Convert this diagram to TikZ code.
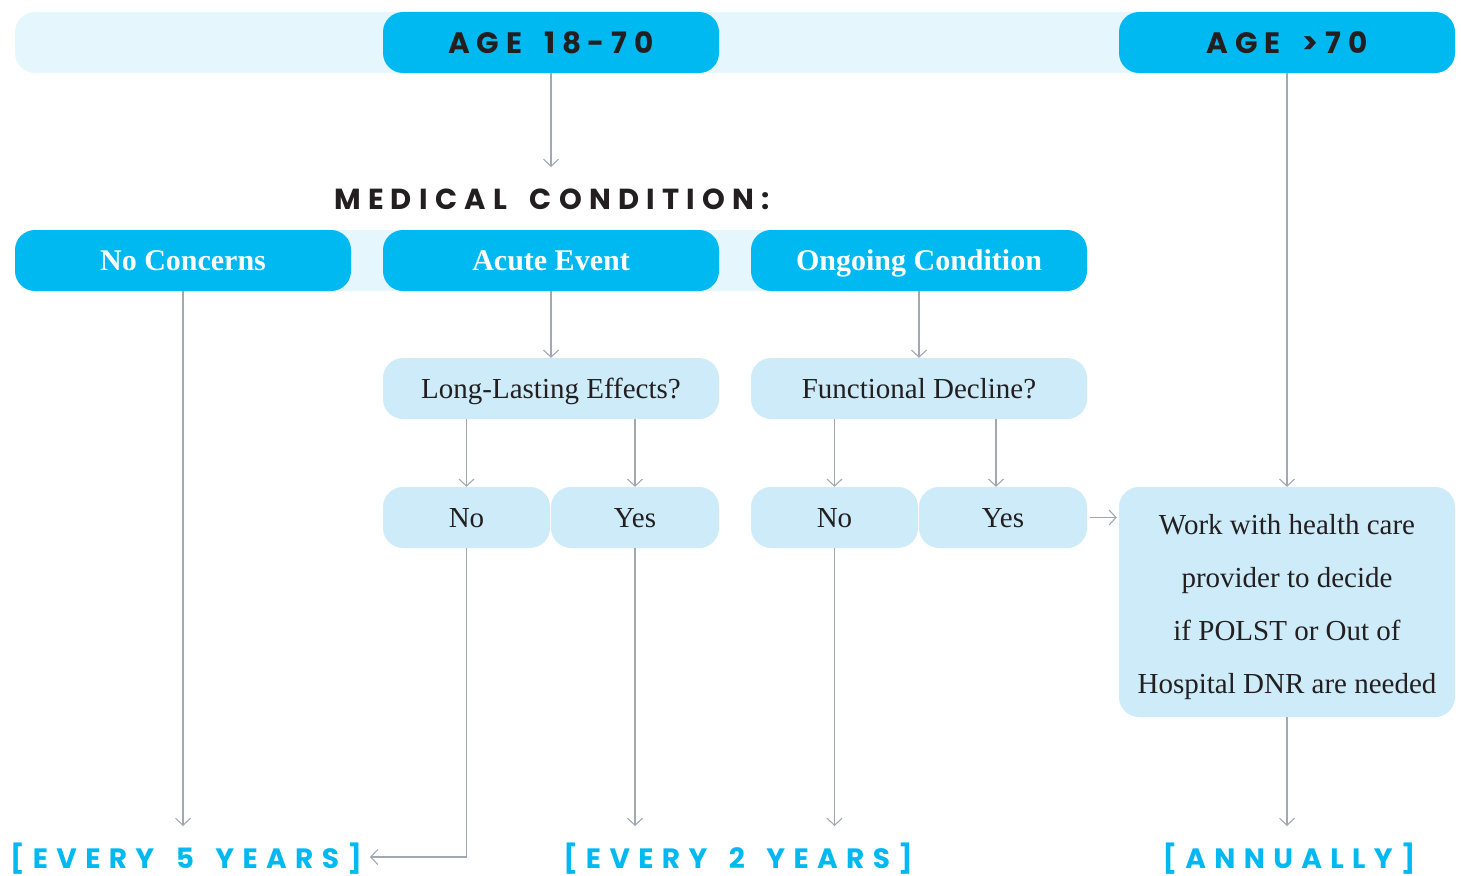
\documentclass[tikz,border=0pt]{standalone}
\usepackage{fontspec}
\setmainfont{Liberation Serif}
\newfontfamily\capsfont[LetterSpace=23,WordSpace=1.7]{Poppins}
\newfontfamily\headfont[LetterSpace=25,WordSpace=1.7]{Poppins}
\newfontfamily\capsfontwide[LetterSpace=30,WordSpace=1.5]{Poppins}
\usetikzlibrary{arrows.meta}
\definecolor{cyanb}{RGB}{0,185,241}
\definecolor{lightb}{RGB}{205,235,249}
\definecolor{palebar}{RGB}{230,246,253}
\definecolor{darktext}{RGB}{35,31,32}
\definecolor{arrowgray}{RGB}{160,168,178}
\tikzset{
  box/.style={rounded corners=20pt, minimum height=61pt, inner sep=0pt, draw=none},
  barbox/.style={box, fill=palebar},
  cyanbox/.style={box, fill=cyanb, text=white, minimum width=336pt, text height=22pt, text depth=3pt,
    font=\bfseries\fontsize{30}{32}\selectfont},
  agebox/.style={box, fill=cyanb, text=darktext, minimum width=336pt, text height=24pt, text depth=1pt,
    font=\capsfont\bfseries\fontsize{29.5}{32}\selectfont},
  lightbox/.style={box, fill=lightb, text=darktext, text height=22pt, text depth=3pt,
    font=\fontsize{29}{30}\selectfont},
  workbox/.style={box, fill=lightb, text=darktext, align=center,
    font=\fontsize{29}{53}\selectfont},
  heading/.style={text=darktext, inner sep=0pt, font=\headfont\bfseries\fontsize{29}{30}\selectfont},
  freq/.style={text=cyanb, inner sep=0pt, font=\capsfontwide\bfseries\fontsize{28}{30}\selectfont},
  arr/.style={draw=arrowgray, line width=1.1pt, -{Straight Barb[length=7pt,width=15pt]}}
}
\begin{document}
\begin{tikzpicture}[x=1pt,y=-1pt]
\useasboundingbox (0,0) rectangle (1461,875);
% top row
\node[barbox, minimum width=1440pt] (bar1) at (735,42.5) {};
\node[agebox] (age1) at (551,42.5) {AGE 18-70};
\node[agebox] (age2) at (1287,42.5) {AGE >70};
% heading
\node[heading] (med) at (552,199) {MEDICAL CONDITION:};
\coordinate (medtip) at (551,167);
% condition row
\node[barbox, minimum width=1072pt] (bar2) at (551,260.5) {};
\node[cyanbox] (nocon) at (183,260.5) {No Concerns};
\node[cyanbox] (acute) at (551,260.5) {Acute Event};
\node[cyanbox] (ongo) at (919,260.5) {Ongoing Condition};
% questions
\node[lightbox, minimum width=336pt] (long) at (551,388.5) {Long-Lasting Effects?};
\node[lightbox, minimum width=336pt] (func) at (919,388.5) {Functional Decline?};
% answers
\node[lightbox, minimum width=167pt] (no1) at (466.5,517.5) {No};
\node[lightbox, minimum width=168pt] (yes1) at (635,517.5) {Yes};
\node[lightbox, minimum width=167pt] (no2) at (834.5,517.5) {No};
\node[lightbox, minimum width=168pt] (yes2) at (1003,517.5) {Yes};
% work box
\node[workbox, minimum width=336pt, minimum height=230pt] (work) at (1287,602)
  {\rule{0pt}{31pt}Work with health care\\provider to decide\\if POLST or Out of\\Hospital DNR are needed};
% frequencies
\node[freq] (every5) at (186,859) {[EVERY 5 YEARS]};
\node[freq] (every2) at (738,859) {[EVERY 2 YEARS]};
\node[freq] (annual) at (1289,859) {[ANNUALLY]};
\coordinate (bot) at (0,826);
\coordinate (ret) at (370,857);
% connectors
\draw[arr] (age1.south) -- (medtip);
\draw[arr] (acute.south) -- (long.north);
\draw[arr] (ongo.south) -- (func.north);
\draw[arr] (no1.north |- long.south) -- (no1.north);
\draw[arr] (yes1.north |- long.south) -- (yes1.north);
\draw[arr] (no2.north |- func.south) -- (no2.north);
\draw[arr] ([xshift=-7pt]yes2.north |- func.south) -- ([xshift=-7pt]yes2.north);
\draw[arr] ([xshift=3pt]yes2.east) -- ([xshift=-2pt]work.west |- yes2.east);
\draw[arr] (age2.south) -- (work.north);
\draw[arr] (work.south) -- (work.south |- bot);
\draw[arr] (nocon.south) -- (nocon.south |- bot);
\draw[arr] (yes1.south) -- (yes1.south |- bot);
\draw[arr] (no2.south) -- (no2.south |- bot);
\draw[arr] (no1.south) |- (ret);
\end{tikzpicture}
\end{document}
